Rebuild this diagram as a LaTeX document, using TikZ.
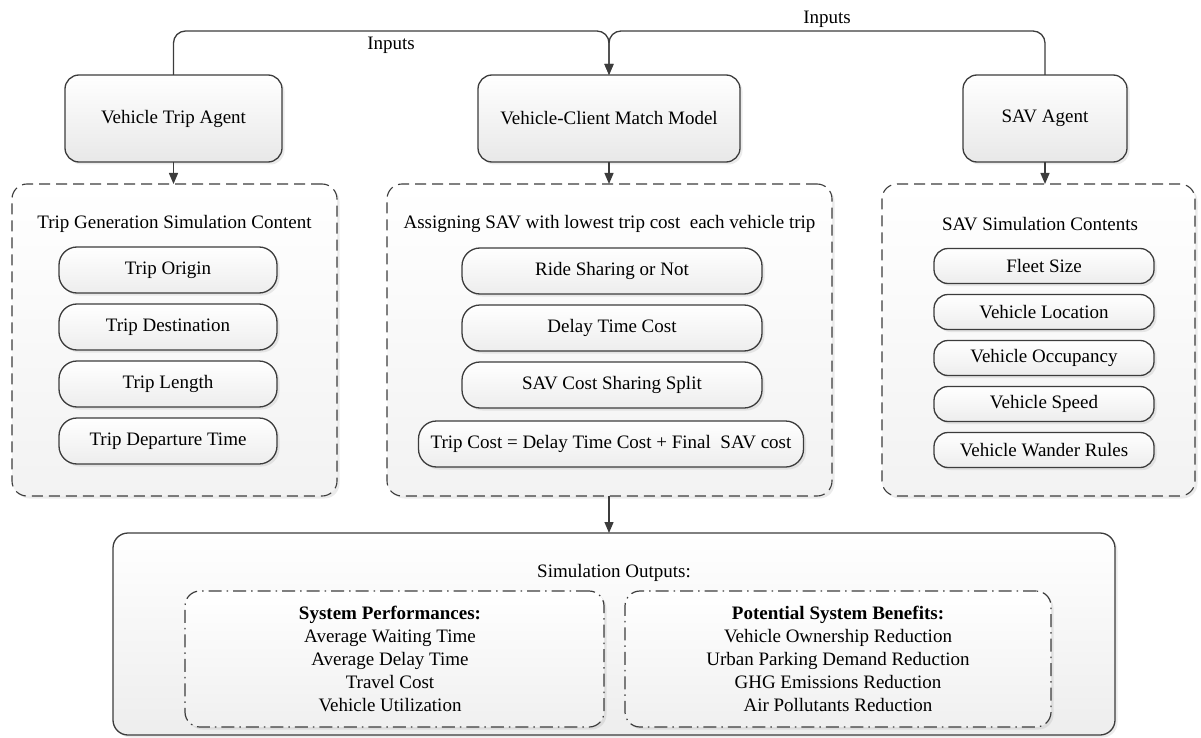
\documentclass[tikz,border=0pt]{standalone}
\usepackage{fontspec}
\setmainfont{Liberation Serif}
\usetikzlibrary{arrows.meta,shadows}
\definecolor{ln}{HTML}{3C3C3C}
\begin{document}
\begin{tikzpicture}[x=1pt,y=-1pt,
  font=\fontsize{19}{23}\selectfont,
  every node/.style={inner sep=0pt, outer sep=0pt},
  shd/.style={drop shadow={opacity=0.16,shadow xshift=2.5pt,shadow yshift=-2.5pt}},
  agentbox/.style={draw=ln, line width=1.3pt, rounded corners=14pt, top color=white, bottom color=black!9, shd, minimum height=87pt},
  groupbox/.style={draw=ln, line width=1.1pt, dash pattern=on 11pt off 6pt, rounded corners=15pt, top color=white, bottom color=black!5, shd, minimum height=312pt},
  itembox/.style={draw=ln, line width=1.3pt, rounded corners=18pt, top color=white, bottom color=black!7, shd, minimum height=46pt},
  savitem/.style={itembox, rounded corners=14pt, minimum height=35pt},
  outbox/.style={draw=ln, line width=1.3pt, rounded corners=15pt, top color=white, bottom color=black!7, shd},
  dashdotbox/.style={draw=ln, line width=1.2pt, dash pattern=on 13pt off 5pt on 1.5pt off 5pt, rounded corners=15pt, top color=white, bottom color=black!6, shd, minimum height=136pt},
  conn/.style={draw=ln, line width=1.3pt},
  arr/.style={conn, -{Triangle[width=9pt,length=11pt]}},
]
\useasboundingbox (0,0) rectangle (1201,738);

% agents
\node[agentbox, minimum width=217pt] (vta) at (173.5,118.5) {Vehicle Trip Agent};
\node[agentbox, minimum width=262pt] (vcm) at (609,118.5) {Vehicle-Client Match Model};
\node[agentbox, minimum width=164pt] (sava) at (1045,118.5) {SAV Agent};

% group boxes
\node[groupbox, minimum width=325pt] (dl) at (174.5,340) {};
\node[groupbox, minimum width=445pt] (dm) at (609.5,340) {};
\node[groupbox, minimum width=313pt] (dr) at (1038.5,340) {};

\node (tl) at (174.5,224) {Trip Generation Simulation Content};
\node (tm) at (609.5,224) {Assigning SAV with lowest trip cost\ \ each vehicle trip};
\node (tr) at (1040,224) {SAV Simulation Contents};

% left items
\node[itembox, minimum width=218pt] (l1) at (168,270) {Trip Origin};
\node[itembox, minimum width=218pt] (l2) at (168,327) {Trip Destination};
\node[itembox, minimum width=218pt] (l3) at (168,384) {Trip Length};
\node[itembox, minimum width=218pt] (l4) at (168,441) {Trip Departure Time};

% middle items
\node[itembox, minimum width=300pt] (m1) at (612,271) {Ride Sharing or Not};
\node[itembox, minimum width=300pt] (m2) at (612,328) {Delay Time Cost};
\node[itembox, minimum width=300pt] (m3) at (612,385) {SAV Cost Sharing Split};
\node[itembox, minimum width=385pt] (m4) at (611,444) {Trip Cost = Delay Time Cost + Final\ \ SAV cost};

% right items
\node[savitem, minimum width=220pt] (r1) at (1044,266) {Fleet Size};
\node[savitem, minimum width=220pt] (r2) at (1044,312) {Vehicle Location};
\node[savitem, minimum width=220pt] (r3) at (1044,358) {Vehicle Occupancy};
\node[savitem, minimum width=220pt] (r4) at (1044,404) {Vehicle Speed};
\node[savitem, minimum width=220pt] (r5) at (1044,450) {Vehicle Wander Rules};

% outputs
\node[outbox, minimum width=1002pt, minimum height=202pt] (bo) at (614,634) {};
\node (so) at (614,573) {Simulation Outputs:};
\node[dashdotbox, minimum width=419pt] (pl) at (394.5,659) {};
\node[dashdotbox, minimum width=426pt] (pr) at (838,659) {};
\node[align=center] (plt) at (390,659) {\textbf{System Performances:}\\Average Waiting Time\\Average Delay Time\\Travel Cost\\Vehicle Utilization};
\node[align=center] (prt) at (838,659) {\textbf{Potential System Benefits:}\\Vehicle Ownership Reduction\\Urban Parking Demand Reduction\\GHG Emissions Reduction\\Air Pollutants Reduction};

% connectors
\coordinate (top) at (609,31);
\draw[arr, rounded corners=12pt] (vta.north) -- (vta.north |- top) -- (top) -- (vcm.north);
\draw[arr, rounded corners=12pt] (sava.north) -- (sava.north |- top) -- (top) -- (vcm.north);
\node (in1) at (391,45) {Inputs};
\node (in2) at (827,19) {Inputs};

\draw[arr] (vta.south) -- (vta.south |- dl.north);
\draw[arr] (vcm.south) -- (vcm.south |- dm.north);
\draw[arr] (sava.south) -- (sava.south |- dr.north);
\draw[arr] (vcm.south |- dm.south) -- (vcm.south |- bo.north);
\end{tikzpicture}
\end{document}
